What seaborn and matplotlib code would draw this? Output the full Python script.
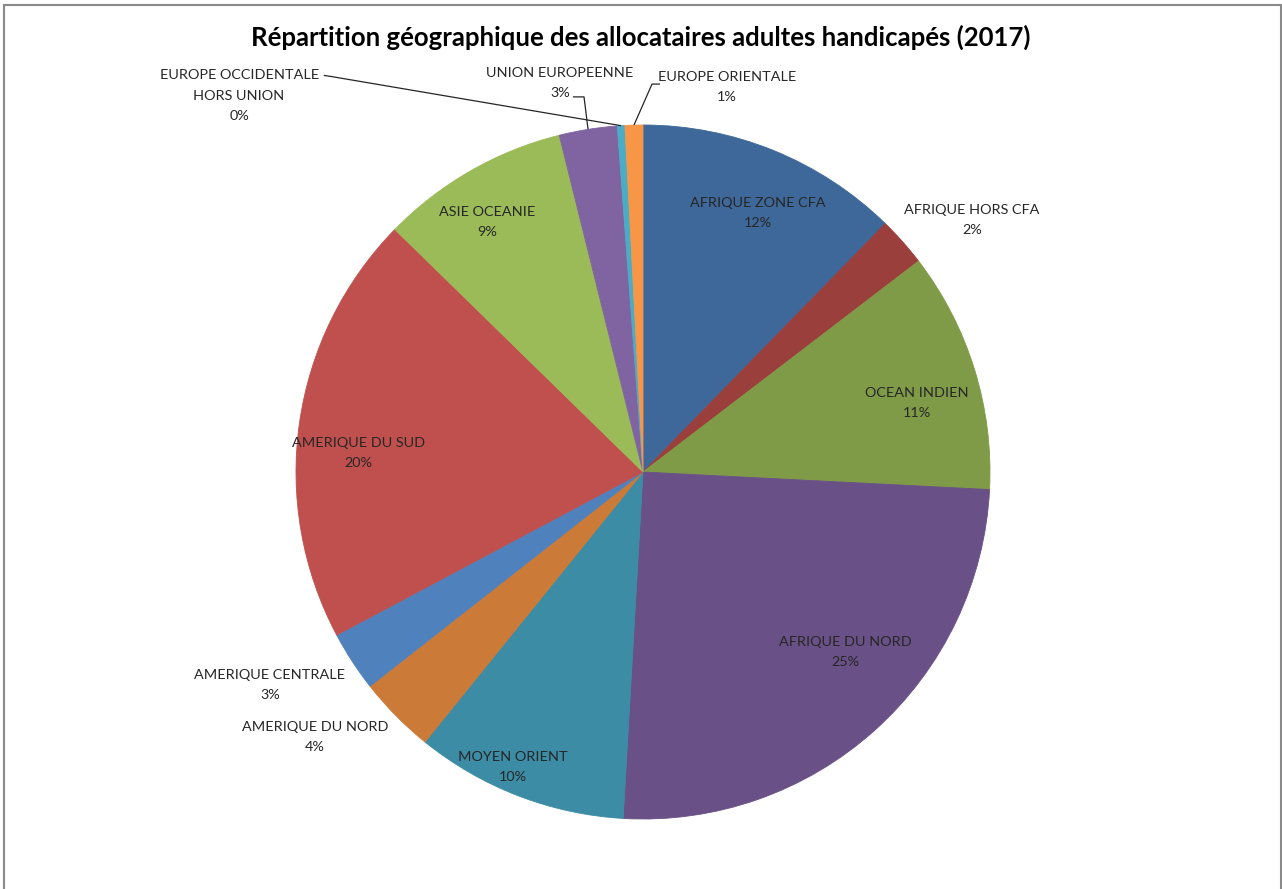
import matplotlib
matplotlib.use("Agg")
import matplotlib.pyplot as plt
from matplotlib.patches import Rectangle
import seaborn as sns
import numpy as np

# Geographic breakdown of adult disability allowance recipients, 2017 (share in %)
regions = [
    "AFRIQUE ZONE CFA", "AFRIQUE HORS CFA", "OCEAN INDIEN", "AFRIQUE DU NORD",
    "MOYEN ORIENT", "AMERIQUE DU NORD", "AMERIQUE CENTRALE", "AMERIQUE DU SUD",
    "ASIE OCEANIE", "UNION EUROPEENNE", "EUROPE OCCIDENTALE\nHORS UNION",
    "EUROPE ORIENTALE",
]
shares = [12.3, 2.3, 11.2, 25.1, 9.9, 3.6, 2.8, 20.1, 8.8, 2.7, 0.35, 0.83]
slice_colors = [
    "#3E6899", "#9B3F3D", "#7F9B48", "#695086", "#3B8CA4", "#CC7A37",
    "#4F81BD", "#C0504D", "#9BBB59", "#8064A2", "#4BACC6", "#F79646",
]
title = "Répartition géographique des allocataires adultes handicapés (2017)"

# Label centres in units of the pie radius
label_xy = [
    (0.331, 0.746), (0.948, 0.726), (0.790, 0.199), (0.582, -0.519),
    (-0.375, -0.850), (-0.945, -0.764), (-1.075, -0.614), (-0.821, 0.055),
    (-0.450, 0.720), (-0.239, 1.121), (-1.164, 1.084), (0.242, 1.110),
]
# Leader lines for the thin outer slices: (start, elbow) in pie units
leaders = {
    9: ((-0.202, 1.081), (-0.170, 1.081)),
    10: ((-0.920, 1.143), (-0.900, 1.140)),
    11: ((0.049, 1.118), (0.026, 1.118)),
}

sns.set_theme(style="white")
plt.rcParams["font.family"] = ["Lato", "DejaVu Sans"]

W, H = 1282, 889
fig = plt.figure(figsize=(W / 100, H / 100), dpi=100)
fig.patch.set_facecolor("white")

# Square axes so that radius 1 spans 347 px, centred on the pie
cx, cy, R = 643, 472, 347
k = 1.7
L = R * k
ax = fig.add_axes([(cx - L) / W, (H - cy - L) / H, 2 * L / W, 2 * L / H])

palette = sns.color_palette(slice_colors)
wedges, _ = ax.pie(
    shares, colors=palette, startangle=90, counterclock=False, radius=1,
    wedgeprops=dict(linewidth=0.6, edgecolor="white", antialiased=True),
)
for w, c in zip(wedges, palette):
    w.set_edgecolor(c)

ax.set_xlim(-k, k)
ax.set_ylim(-k, k)
ax.set_aspect("equal")
ax.axis("off")

total = sum(shares)
for i, (name, v) in enumerate(zip(regions, shares)):
    pct = v / total * 100
    x, y = label_xy[i]
    ax.text(x, y, f"{name}\n{pct:.0f}%", ha="center", va="center",
            fontsize=10.4, color="#262626", linespacing=1.85, clip_on=False)
    if i in leaders:
        w = wedges[i]
        mid = np.deg2rad((w.theta1 + w.theta2) / 2)
        ex, ey = np.cos(mid), np.sin(mid)
        (sx, sy), (bx, by) = leaders[i]
        ax.plot([sx, bx, ex], [sy, by, ey], color="#262626", lw=0.9,
                clip_on=False, solid_capstyle="butt")

fig.text(0.5, 1 - 37 / H, title, ha="center", va="center",
         fontsize=18.5, fontweight="bold", color="#000000")

# Chart-area frame
fig.patches.append(Rectangle((3.5 / W, -0.05), (1281 - 3.5) / W, 1.05 - 4.5 / H,
                             transform=fig.transFigure, fill=False,
                             edgecolor="#8A8A8A", linewidth=1.5))

fig.savefig("out.png", dpi=100, facecolor="white")
